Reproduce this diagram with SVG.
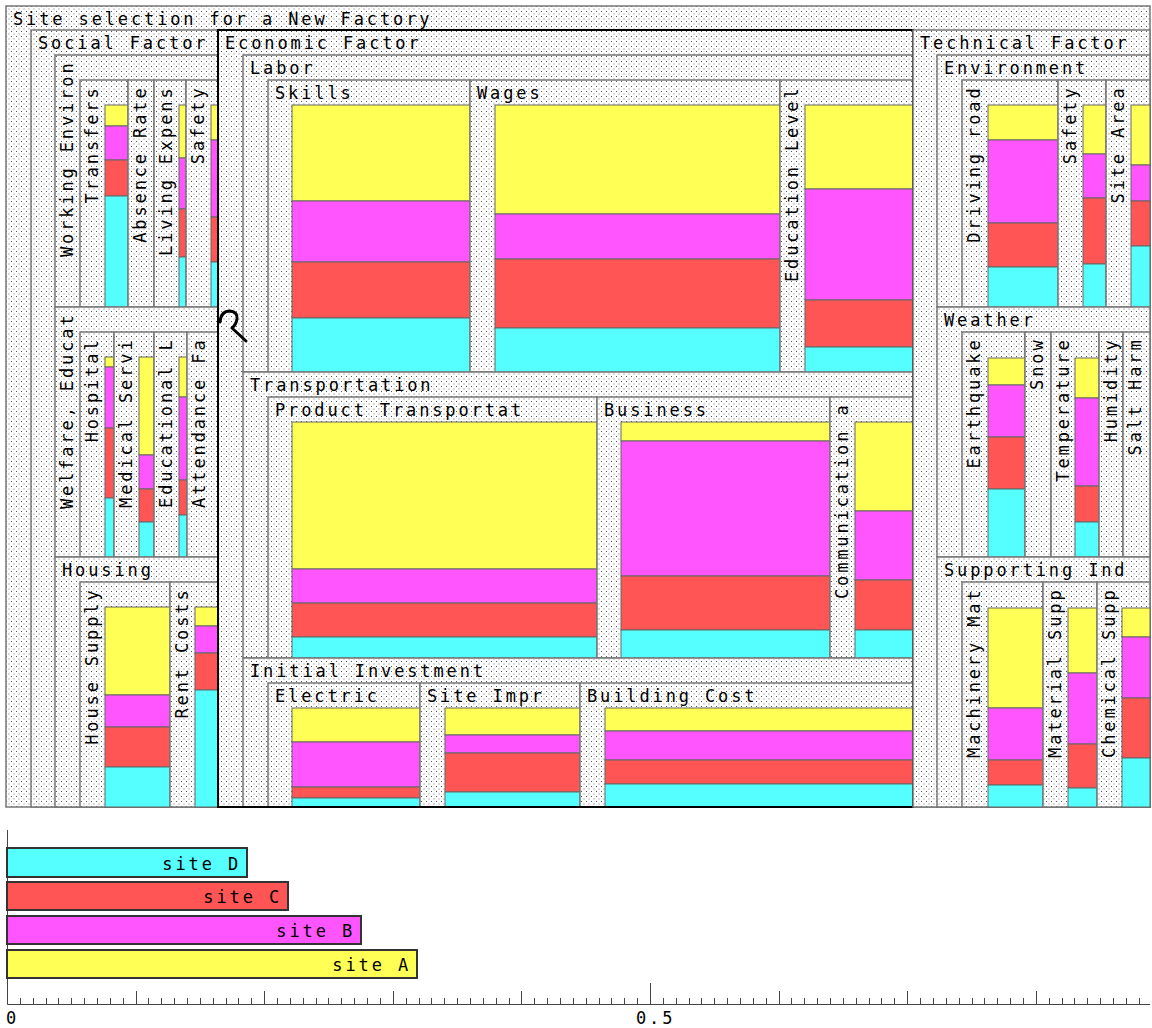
<svg xmlns="http://www.w3.org/2000/svg" width="1152" height="1028" viewBox="0 0 1152 1028">
<defs>
<pattern id="dots" width="5" height="5" patternUnits="userSpaceOnUse">
<rect width="5" height="5" fill="#ffffff"/>
<rect x="1" y="1" width="1" height="1" fill="#555"/>
<rect x="3.5" y="3.5" width="1" height="1" fill="#777"/>
</pattern>
<style>
.b{fill:url(#dots);stroke:#777;stroke-width:1.5}
.t{font-family:"DejaVu Sans Mono","Liberation Mono",monospace;font-size:17px;letter-spacing:2.87px;fill:#000}
.v{text-anchor:end}
.y{fill:#ffff55;stroke:#666;stroke-width:1}
.m{fill:#ff55ff;stroke:#666;stroke-width:1}
.r{fill:#ff5555;stroke:#666;stroke-width:1}
.c{fill:#55ffff;stroke:#666;stroke-width:1}
.bar{stroke:#333;stroke-width:2}
.ax{stroke:#444;stroke-width:1;fill:none}
</style>
</defs>
<rect width="1152" height="1028" fill="#fff"/>

<g id="root">
<rect class="b" x="6" y="6" width="1144" height="801"/>
<text class="t" x="13" y="25">Site selection for a New Factory</text>
</g>

<g id="social-factor">
<rect class="b" x="31" y="30" width="187" height="777"/>
<text class="t" x="38" y="49">Social Factor</text>
</g>
<g id="working-environ">
<rect class="b" x="55" y="55" width="163" height="252"/>
<text class="t v" transform="translate(73,60.5) rotate(-90)">Working Environ</text>
</g>
<g id="transfers">
<rect class="b" x="80" y="80" width="48" height="227"/>
<text class="t v" transform="translate(98,85.5) rotate(-90)">Transfers</text>
<rect class="y" x="105" y="105" width="23" height="21"/>
<rect class="m" x="105" y="126" width="23" height="34"/>
<rect class="r" x="105" y="160" width="23" height="36"/>
<rect class="c" x="105" y="196" width="23" height="111"/>
</g>
<g id="absence-rate">
<rect class="b" x="128" y="80" width="26" height="227"/>
<text class="t v" transform="translate(146,85.5) rotate(-90)">Absence Rate</text>
</g>
<g id="living-expens">
<rect class="b" x="154" y="80" width="32" height="227"/>
<text class="t v" transform="translate(172,85.5) rotate(-90)">Living Expens</text>
<rect class="y" x="179" y="105" width="7" height="53"/>
<rect class="m" x="179" y="158" width="7" height="51"/>
<rect class="r" x="179" y="209" width="7" height="48"/>
<rect class="c" x="179" y="257" width="7" height="50"/>
</g>
<g id="safety-social">
<rect class="b" x="186" y="80" width="32" height="227"/>
<text class="t v" transform="translate(204,85.5) rotate(-90)">Safety</text>
<rect class="y" x="211" y="105" width="7" height="35"/>
<rect class="m" x="211" y="140" width="7" height="77"/>
<rect class="r" x="211" y="217" width="7" height="45"/>
<rect class="c" x="211" y="262" width="7" height="45"/>
</g>

<g id="welfare-educat">
<rect class="b" x="55" y="307" width="163" height="250"/>
<text class="t v" transform="translate(73,312.5) rotate(-90)">Welfare, Educat</text>
</g>
<g id="hospital">
<rect class="b" x="80" y="332" width="34" height="225"/>
<text class="t v" transform="translate(98,337.5) rotate(-90)">Hospital</text>
<rect class="y" x="105" y="357" width="9" height="10"/>
<rect class="m" x="105" y="367" width="9" height="61"/>
<rect class="r" x="105" y="428" width="9" height="70"/>
<rect class="c" x="105" y="498" width="9" height="59"/>
</g>
<g id="medical-servi">
<rect class="b" x="114" y="332" width="40" height="225"/>
<text class="t v" transform="translate(132,337.5) rotate(-90)">Medical Servi</text>
<rect class="y" x="139" y="357" width="15" height="98"/>
<rect class="m" x="139" y="455" width="15" height="34"/>
<rect class="r" x="139" y="489" width="15" height="33"/>
<rect class="c" x="139" y="522" width="15" height="35"/>
</g>
<g id="educational-l">
<rect class="b" x="154" y="332" width="33" height="225"/>
<text class="t v" transform="translate(172,337.5) rotate(-90)">Educational L</text>
<rect class="y" x="179" y="357" width="8" height="40"/>
<rect class="m" x="179" y="397" width="8" height="83"/>
<rect class="r" x="179" y="480" width="8" height="35"/>
<rect class="c" x="179" y="515" width="8" height="42"/>
</g>
<g id="attendance-fa">
<rect class="b" x="187" y="332" width="31" height="225"/>
<text class="t v" transform="translate(205,337.5) rotate(-90)">Attendance Fa</text>
</g>

<g id="housing">
<rect class="b" x="55" y="557" width="163" height="250"/>
<text class="t" x="62" y="576">Housing</text>
</g>
<g id="house-supply">
<rect class="b" x="80" y="582" width="90" height="225"/>
<text class="t v" transform="translate(98,587.5) rotate(-90)">House Supply</text>
<rect class="y" x="105" y="607" width="65" height="88"/>
<rect class="m" x="105" y="695" width="65" height="32"/>
<rect class="r" x="105" y="727" width="65" height="40"/>
<rect class="c" x="105" y="767" width="65" height="40"/>
</g>
<g id="rent-costs">
<rect class="b" x="170" y="582" width="48" height="225"/>
<text class="t v" transform="translate(188,587.5) rotate(-90)">Rent Costs</text>
<rect class="y" x="195" y="607" width="23" height="19"/>
<rect class="m" x="195" y="626" width="23" height="27"/>
<rect class="r" x="195" y="653" width="23" height="37"/>
<rect class="c" x="195" y="690" width="23" height="117"/>
</g>

<g id="economic-factor">
<rect class="b" x="218" y="30" width="695" height="777"/>
<text class="t" x="225" y="49">Economic Factor</text>
</g>
<g id="labor">
<rect class="b" x="243" y="55" width="670" height="317"/>
<text class="t" x="250" y="74">Labor</text>
</g>
<g id="skills">
<rect class="b" x="268" y="80" width="202" height="292"/>
<text class="t" x="275" y="99">Skills</text>
<rect class="y" x="292" y="105" width="178" height="96"/>
<rect class="m" x="292" y="201" width="178" height="61"/>
<rect class="r" x="292" y="262" width="178" height="56"/>
<rect class="c" x="292" y="318" width="178" height="54"/>
</g>
<g id="wages">
<rect class="b" x="470" y="80" width="310" height="292"/>
<text class="t" x="477" y="99">Wages</text>
<rect class="y" x="495" y="105" width="285" height="109"/>
<rect class="m" x="495" y="214" width="285" height="45"/>
<rect class="r" x="495" y="259" width="285" height="69"/>
<rect class="c" x="495" y="328" width="285" height="44"/>
</g>
<g id="education-level">
<rect class="b" x="780" y="80" width="133" height="292"/>
<text class="t v" transform="translate(798,85.5) rotate(-90)">Education Level</text>
<rect class="y" x="805" y="105" width="108" height="84"/>
<rect class="m" x="805" y="189" width="108" height="111"/>
<rect class="r" x="805" y="300" width="108" height="47"/>
<rect class="c" x="805" y="347" width="108" height="25"/>
</g>
<g id="transportation">
<rect class="b" x="243" y="372" width="670" height="286"/>
<text class="t" x="250" y="391">Transportation</text>
</g>
<g id="product-transportat">
<rect class="b" x="268" y="397" width="329" height="261"/>
<text class="t" x="275" y="416">Product Transportat</text>
<rect class="y" x="292" y="422" width="305" height="147"/>
<rect class="m" x="292" y="569" width="305" height="34"/>
<rect class="r" x="292" y="603" width="305" height="34"/>
<rect class="c" x="292" y="637" width="305" height="21"/>
</g>
<g id="business">
<rect class="b" x="597" y="397" width="233" height="261"/>
<text class="t" x="604" y="416">Business</text>
<rect class="y" x="621" y="422" width="209" height="19"/>
<rect class="m" x="621" y="441" width="209" height="135"/>
<rect class="r" x="621" y="576" width="209" height="54"/>
<rect class="c" x="621" y="630" width="209" height="28"/>
</g>
<g id="communication">
<rect class="b" x="830" y="397" width="83" height="261"/>
<text class="t v" transform="translate(848,402.5) rotate(-90)">Communication a</text>
<rect class="y" x="855" y="422" width="58" height="89"/>
<rect class="m" x="855" y="511" width="58" height="69"/>
<rect class="r" x="855" y="580" width="58" height="50"/>
<rect class="c" x="855" y="630" width="58" height="28"/>
</g>
<g id="initial-investment">
<rect class="b" x="243" y="658" width="670" height="149"/>
<text class="t" x="250" y="677">Initial Investment</text>
</g>
<g id="electric">
<rect class="b" x="268" y="683" width="152" height="124"/>
<text class="t" x="275" y="702">Electric</text>
<rect class="y" x="292" y="708" width="128" height="34"/>
<rect class="m" x="292" y="742" width="128" height="45"/>
<rect class="r" x="292" y="787" width="128" height="11"/>
<rect class="c" x="292" y="798" width="128" height="9"/>
</g>
<g id="site-impr">
<rect class="b" x="420" y="683" width="160" height="124"/>
<text class="t" x="427" y="702">Site Impr</text>
<rect class="y" x="445" y="708" width="135" height="27"/>
<rect class="m" x="445" y="735" width="135" height="18"/>
<rect class="r" x="445" y="753" width="135" height="39"/>
<rect class="c" x="445" y="792" width="135" height="15"/>
</g>
<g id="building-cost">
<rect class="b" x="580" y="683" width="333" height="124"/>
<text class="t" x="587" y="702">Building Cost</text>
<rect class="y" x="605" y="708" width="308" height="23"/>
<rect class="m" x="605" y="731" width="308" height="29"/>
<rect class="r" x="605" y="760" width="308" height="24"/>
<rect class="c" x="605" y="784" width="308" height="23"/>
</g>
<g id="economic-outline">
<rect x="218" y="30" width="695" height="777" fill="none" stroke="#000" stroke-width="2"/>
</g>

<g id="technical-factor">
<rect class="b" x="913" y="30" width="237" height="777"/>
<text class="t" x="920" y="49">Technical Factor</text>
</g>
<g id="environment">
<rect class="b" x="937" y="55" width="213" height="252"/>
<text class="t" x="944" y="74">Environment</text>
</g>
<g id="driving-road">
<rect class="b" x="962" y="80" width="96" height="227"/>
<text class="t v" transform="translate(980,85.5) rotate(-90)">Driving road</text>
<rect class="y" x="988" y="105" width="70" height="35"/>
<rect class="m" x="988" y="140" width="70" height="83"/>
<rect class="r" x="988" y="223" width="70" height="44"/>
<rect class="c" x="988" y="267" width="70" height="40"/>
</g>
<g id="safety-tech">
<rect class="b" x="1058" y="80" width="48" height="227"/>
<text class="t v" transform="translate(1076,85.5) rotate(-90)">Safety</text>
<rect class="y" x="1083" y="105" width="23" height="49"/>
<rect class="m" x="1083" y="154" width="23" height="44"/>
<rect class="r" x="1083" y="198" width="23" height="66"/>
<rect class="c" x="1083" y="264" width="23" height="43"/>
</g>
<g id="site-area">
<rect class="b" x="1106" y="80" width="44" height="227"/>
<text class="t v" transform="translate(1124,85.5) rotate(-90)">Site Area</text>
<rect class="y" x="1131" y="105" width="19" height="60"/>
<rect class="m" x="1131" y="165" width="19" height="36"/>
<rect class="r" x="1131" y="201" width="19" height="45"/>
<rect class="c" x="1131" y="246" width="19" height="61"/>
</g>
<g id="weather">
<rect class="b" x="937" y="307" width="213" height="250"/>
<text class="t" x="944" y="326">Weather</text>
</g>
<g id="earthquake">
<rect class="b" x="962" y="332" width="63" height="225"/>
<text class="t v" transform="translate(980,337.5) rotate(-90)">Earthquake</text>
<rect class="y" x="988" y="358" width="37" height="27"/>
<rect class="m" x="988" y="385" width="37" height="52"/>
<rect class="r" x="988" y="437" width="37" height="52"/>
<rect class="c" x="988" y="489" width="37" height="68"/>
</g>
<g id="snow">
<rect class="b" x="1025" y="332" width="26" height="225"/>
<text class="t v" transform="translate(1043,337.5) rotate(-90)">Snow</text>
</g>
<g id="temperature">
<rect class="b" x="1051" y="332" width="48" height="225"/>
<text class="t v" transform="translate(1069,337.5) rotate(-90)">Temperature</text>
<rect class="y" x="1075" y="358" width="24" height="40"/>
<rect class="m" x="1075" y="398" width="24" height="88"/>
<rect class="r" x="1075" y="486" width="24" height="36"/>
<rect class="c" x="1075" y="522" width="24" height="35"/>
</g>
<g id="humidity">
<rect class="b" x="1099" y="332" width="24" height="225"/>
<text class="t v" transform="translate(1117,337.5) rotate(-90)">Humidity</text>
</g>
<g id="salt-harm">
<rect class="b" x="1123" y="332" width="27" height="225"/>
<text class="t v" transform="translate(1141,337.5) rotate(-90)">Salt Harm</text>
</g>
<g id="supporting-ind">
<rect class="b" x="937" y="557" width="213" height="250"/>
<text class="t" x="944" y="576">Supporting Ind</text>
</g>
<g id="machinery-mat">
<rect class="b" x="962" y="582" width="81" height="225"/>
<text class="t v" transform="translate(980,587.5) rotate(-90)">Machinery Mat</text>
<rect class="y" x="988" y="608" width="55" height="100"/>
<rect class="m" x="988" y="708" width="55" height="52"/>
<rect class="r" x="988" y="760" width="55" height="25"/>
<rect class="c" x="988" y="785" width="55" height="22"/>
</g>
<g id="material-supp">
<rect class="b" x="1043" y="582" width="54" height="225"/>
<text class="t v" transform="translate(1061,587.5) rotate(-90)">Material Supp</text>
<rect class="y" x="1068" y="608" width="29" height="65"/>
<rect class="m" x="1068" y="673" width="29" height="71"/>
<rect class="r" x="1068" y="744" width="29" height="44"/>
<rect class="c" x="1068" y="788" width="29" height="19"/>
</g>
<g id="chemical-supp">
<rect class="b" x="1097" y="582" width="53" height="225"/>
<text class="t v" transform="translate(1115,587.5) rotate(-90)">Chemical Supp</text>
<rect class="y" x="1122" y="608" width="28" height="29"/>
<rect class="m" x="1122" y="637" width="28" height="61"/>
<rect class="r" x="1122" y="698" width="28" height="60"/>
<rect class="c" x="1122" y="758" width="28" height="49"/>
</g>

<g id="cursor">
<path d="M220 322 Q221 311 230 311 Q238 312 237 319 Q236 325 232 328 L246 341" fill="none" stroke="#000" stroke-width="3" stroke-linecap="round" stroke-linejoin="round"/>
</g>

<g id="chart">
<path class="ax" d="M7.5 830V1004.5H1150"/>
<path class="ax" d="M20.5 998v6M33.5 998v6M46.5 998v6M58.5 998v6M71.5 998v6M84.5 998v6M97.5 998v6M110.5 998v6M123.5 998v6M148.5 998v6M161.5 998v6M174.5 998v6M187.5 998v6M200.5 998v6M213.5 998v6M226.5 998v6M238.5 998v6M251.5 998v6M277.5 998v6M290.5 998v6M303.5 998v6M316.5 998v6M328.5 998v6M341.5 998v6M354.5 998v6M367.5 998v6M380.5 998v6M406.5 998v6M419.5 998v6M431.5 998v6M444.5 998v6M457.5 998v6M470.5 998v6M483.5 998v6M496.5 998v6M509.5 998v6M534.5 998v6M547.5 998v6M560.5 998v6M573.5 998v6M586.5 998v6M599.5 998v6M611.5 998v6M624.5 998v6M637.5 998v6M663.5 998v6M676.5 998v6M689.5 998v6M701.5 998v6M714.5 998v6M727.5 998v6M740.5 998v6M753.5 998v6M766.5 998v6M791.5 998v6M804.5 998v6M817.5 998v6M830.5 998v6M843.5 998v6M856.5 998v6M869.5 998v6M881.5 998v6M894.5 998v6M920.5 998v6M933.5 998v6M946.5 998v6M959.5 998v6M972.5 998v6M984.5 998v6M997.5 998v6M1010.5 998v6M1023.5 998v6M1049.5 998v6M1062.5 998v6M1074.5 998v6M1087.5 998v6M1100.5 998v6M1113.5 998v6M1126.5 998v6M1139.5 998v6"/>
<path class="ax" d="M136.5 991v13M264.5 991v13M393.5 991v13M521.5 991v13M779.5 991v13M907.5 991v13M1036.5 991v13M650.5 983v21"/>
<text class="t" x="6" y="1024">0</text>
<text class="t" x="636" y="1024">0.5</text>
<rect class="bar" x="7" y="848" width="240" height="29" fill="#55ffff"/>
<text class="t v" x="241" y="870">site D</text>
<rect class="bar" x="7" y="882" width="281" height="28" fill="#ff5555"/>
<text class="t v" x="282" y="903">site C</text>
<rect class="bar" x="7" y="916" width="354" height="28" fill="#ff55ff"/>
<text class="t v" x="355" y="937">site B</text>
<rect class="bar" x="7" y="950" width="410" height="28" fill="#ffff55"/>
<text class="t v" x="411" y="971">site A</text>
</g>
</svg>
